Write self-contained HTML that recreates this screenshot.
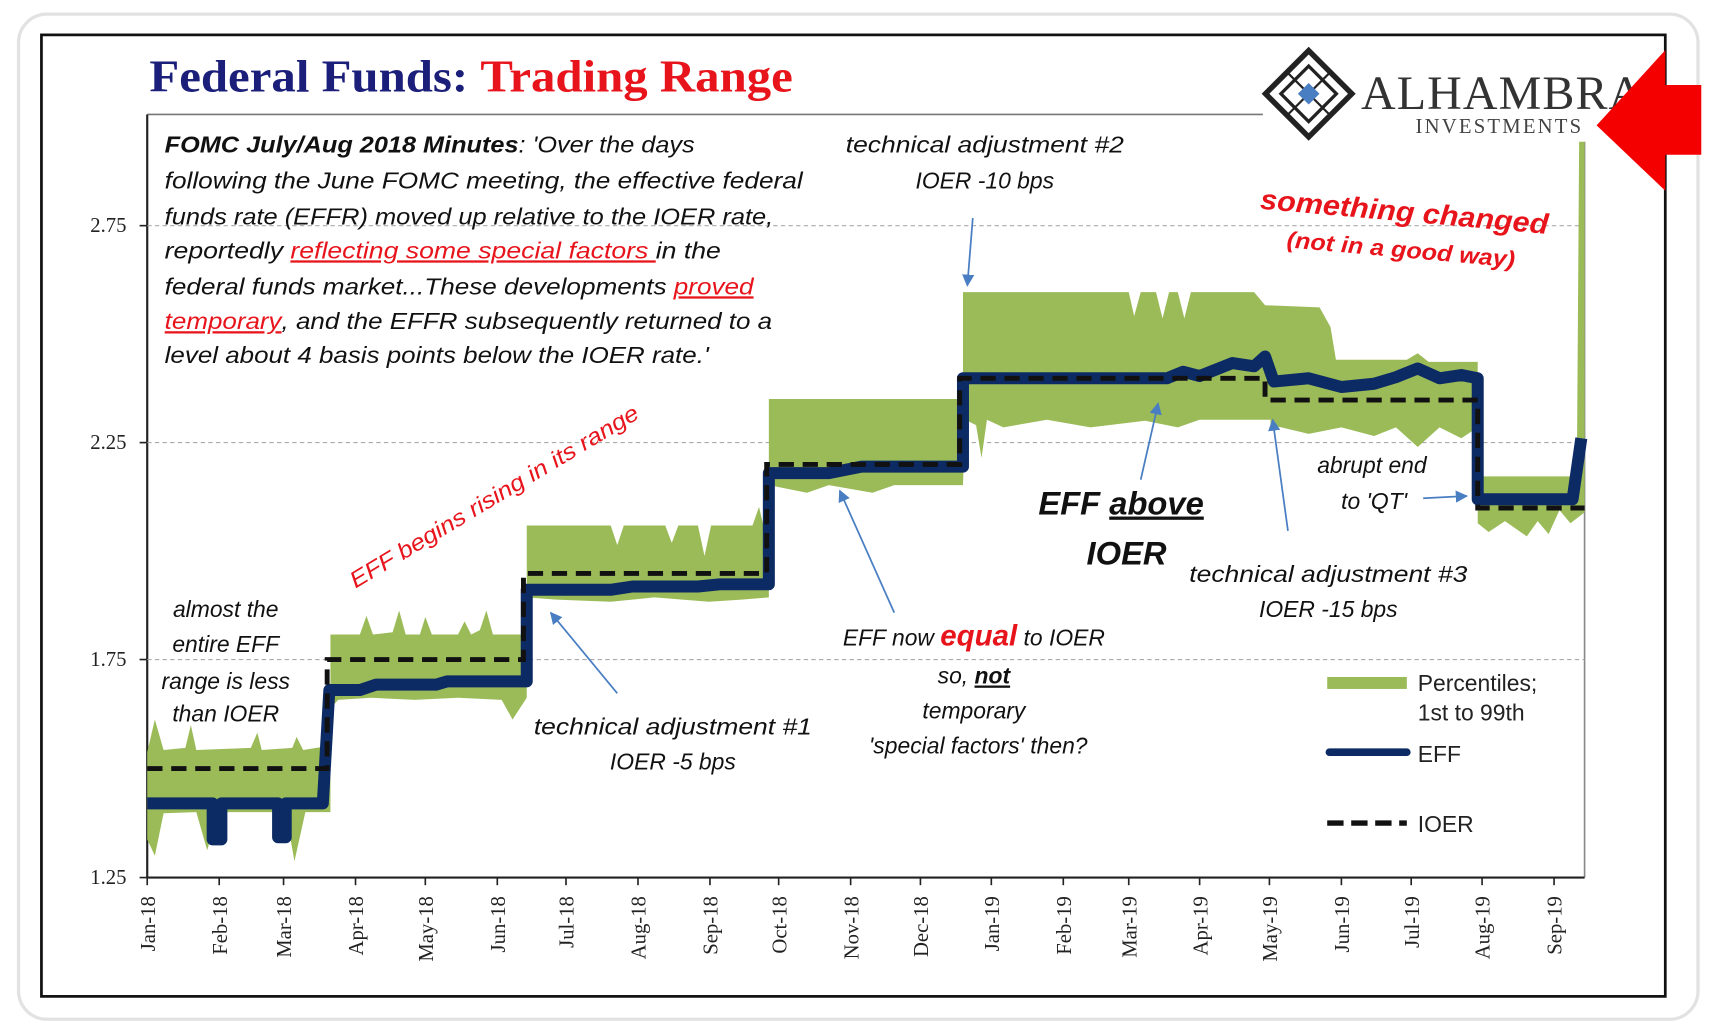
<!DOCTYPE html>
<html><head><meta charset="utf-8"><style>
html,body{margin:0;padding:0;background:#fff;}
svg{display:block;}
.ann{font-family:"Liberation Sans",sans-serif;font-style:italic;font-size:21px;fill:#111;}
.ser{font-family:"Liberation Serif",serif;}
</style></head><body>
<svg width="1710" height="1028" viewBox="0 0 1568 943" preserveAspectRatio="none" xmlns="http://www.w3.org/2000/svg">
<defs>
<marker id="ah" viewBox="0 0 10 10" refX="9" refY="5" markerWidth="7" markerHeight="7" orient="auto-start-reverse">
<path d="M0,0 L10,5 L0,10 z" fill="#4a7ec2"/></marker>
</defs>
<rect x="17" y="13" width="1540" height="922" rx="26" fill="#fff" stroke="#e2e2e2" stroke-width="3"/>
<rect x="38" y="32" width="1489" height="882" fill="#fff" stroke="#111" stroke-width="2.5"/>
<!-- title -->
<text x="137" y="84" class="ser" font-size="42" font-weight="bold" fill="#1b1f7a" textLength="590" lengthAdjust="spacingAndGlyphs">Federal Funds: <tspan fill="#e8141c">Trading Range</tspan></text>
<!-- logo -->
<g transform="translate(1200,86) rotate(45)">
<rect x="-28" y="-28" width="56" height="56" fill="none" stroke="#222" stroke-width="5"/>
<rect x="-18" y="-18" width="36" height="36" fill="none" stroke="#222" stroke-width="3"/>
<line x1="-28" y1="0" x2="28" y2="0" stroke="#222" stroke-width="2"/>
<line x1="0" y1="-28" x2="0" y2="28" stroke="#222" stroke-width="2"/>
<rect x="-7" y="-7" width="14" height="14" fill="#4a7ec2"/>
</g>
<text x="1248" y="100" class="ser" font-size="44" fill="#333" letter-spacing="1">ALHAMBRA</text>
<text x="1298" y="122" class="ser" font-size="19" fill="#444" letter-spacing="2">INVESTMENTS</text>
<polygon points="1464,115 1527,46 1527,78 1560,78 1560,142 1527,142 1527,175" fill="#f50000"/>
<!-- plot frame lines -->
<line x1="135" y1="105" x2="1158" y2="105" stroke="#777" stroke-width="1.5"/>
<line x1="135" y1="105" x2="135" y2="805" stroke="#222" stroke-width="2"/>
<line x1="1453" y1="130" x2="1453" y2="805" stroke="#888" stroke-width="1.5"/>
<g stroke="#aaa" stroke-width="1" stroke-dasharray="4 3">
<line x1="135" y1="207" x2="1453" y2="207"/><line x1="135" y1="406" x2="1453" y2="406"/><line x1="135" y1="605" x2="1453" y2="605"/>
</g>
<g class="ser" font-size="19" fill="#222" text-anchor="end">
<text x="116" y="213">2.75</text><text x="116" y="412">2.25</text><text x="116" y="611">1.75</text><text x="116" y="811">1.25</text>
</g>
<g stroke="#222" stroke-width="1.5"><line x1="128" y1="207" x2="135" y2="207"/><line x1="128" y1="406" x2="135" y2="406"/><line x1="128" y1="605" x2="135" y2="605"/><line x1="128" y1="805" x2="135" y2="805"/></g>
<!-- green band -->
<path fill="#9bbb59" d="M135,690 L142,660 L150,688 L170,686 L175,665 L180,688 L230,686 L236,672 L240,688 L268,686 L272,676 L278,688 L303,684 L303,582 L330,582 L336,565 L342,582 L360,580 L366,560 L372,582 L385,582 L390,566 L396,582 L420,582 L426,570 L432,582 L440,578 L446,560 L452,582 L483,582 L483,482 L560,482 L566,500 L572,482 L610,482 L616,498 L622,482 L640,482 L646,510 L652,482 L690,482 L696,465 L700,482 L705,482 L705,366 L883,366 L883,268 L1035,268 L1040,290 L1046,268 L1060,268 L1066,292 L1072,268 L1080,268 L1086,292 L1092,268 L1150,268 L1160,280 L1210,282 L1220,300 L1225,330 L1290,330 L1300,324 L1310,332 L1355,332 L1355,437 L1440,437 L1446,420 L1448,130 L1453,130 L1453,470 L1440,480 L1430,468 L1420,490 L1410,478 L1400,492 L1380,478 L1365,488 L1355,480 L1355,392 L1340,402 L1320,392 L1300,410 L1280,392 L1260,400 L1230,392 L1200,398 L1175,392 L1165,390 L1165,385 L1100,385 L1080,392 L1050,386 L1000,392 L960,385 L920,392 L905,385 L900,420 L895,390 L885,385 L883,445 L820,445 L800,452 L760,445 L740,452 L705,445 L705,548 L680,550 L650,552 L600,548 L560,552 L510,550 L483,548 L483,640 L470,660 L460,642 L420,640 L380,642 L340,640 L310,642 L303,650 L303,745 L280,745 L270,790 L262,745 L200,745 L190,780 L180,745 L150,746 L142,785 L135,770 Z"/>
<!-- EFF -->
<path fill="none" stroke="#0c2a63" stroke-width="11" stroke-linejoin="round" d="M135,737 H195 V770 H203 V737 H255 V768 H262 V737 H296 L302,633 H330 L345,628 H400 L410,625 H483 V541 H560 L580,538 H640 L660,536 H705 V434 H760 L790,428 H883 V347 H1070 L1085,341 L1100,345 L1130,333 L1150,336 L1160,327 L1168,350 L1200,347 L1230,355 L1260,352 L1280,346 L1300,338 L1320,347 L1340,344 L1355,347 V458 H1442 L1450,402"/>
<!-- IOER -->
<path fill="none" stroke="#111" stroke-width="4.5" stroke-dasharray="14 8" d="M135,705 H300 V605 H480 V526 H703 V426 H880 V347 H1160 V367 H1355 V466 H1453"/>
<!-- x axis -->
<line x1="135" y1="805" x2="1453" y2="805" stroke="#222" stroke-width="2"/>
<g stroke="#222" stroke-width="1.5">
<line x1="135" y1="805" x2="135" y2="812"/><line x1="201" y1="805" x2="201" y2="812"/><line x1="260" y1="805" x2="260" y2="812"/><line x1="326" y1="805" x2="326" y2="812"/><line x1="390" y1="805" x2="390" y2="812"/><line x1="456" y1="805" x2="456" y2="812"/><line x1="519" y1="805" x2="519" y2="812"/><line x1="585" y1="805" x2="585" y2="812"/><line x1="651" y1="805" x2="651" y2="812"/><line x1="714" y1="805" x2="714" y2="812"/><line x1="780" y1="805" x2="780" y2="812"/><line x1="844" y1="805" x2="844" y2="812"/><line x1="909" y1="805" x2="909" y2="812"/><line x1="975" y1="805" x2="975" y2="812"/><line x1="1035" y1="805" x2="1035" y2="812"/><line x1="1100" y1="805" x2="1100" y2="812"/><line x1="1164" y1="805" x2="1164" y2="812"/><line x1="1230" y1="805" x2="1230" y2="812"/><line x1="1294" y1="805" x2="1294" y2="812"/><line x1="1359" y1="805" x2="1359" y2="812"/><line x1="1425" y1="805" x2="1425" y2="812"/>
</g>
<g class="ser" font-size="19" fill="#222" text-anchor="end">
<text transform="translate(142,822) rotate(-90)">Jan-18</text><text transform="translate(208,822) rotate(-90)">Feb-18</text><text transform="translate(267,822) rotate(-90)">Mar-18</text><text transform="translate(333,822) rotate(-90)">Apr-18</text><text transform="translate(397,822) rotate(-90)">May-18</text><text transform="translate(463,822) rotate(-90)">Jun-18</text><text transform="translate(526,822) rotate(-90)">Jul-18</text><text transform="translate(592,822) rotate(-90)">Aug-18</text><text transform="translate(658,822) rotate(-90)">Sep-18</text><text transform="translate(721,822) rotate(-90)">Oct-18</text><text transform="translate(787,822) rotate(-90)">Nov-18</text><text transform="translate(851,822) rotate(-90)">Dec-18</text><text transform="translate(916,822) rotate(-90)">Jan-19</text><text transform="translate(982,822) rotate(-90)">Feb-19</text><text transform="translate(1042,822) rotate(-90)">Mar-19</text><text transform="translate(1107,822) rotate(-90)">Apr-19</text><text transform="translate(1171,822) rotate(-90)">May-19</text><text transform="translate(1237,822) rotate(-90)">Jun-19</text><text transform="translate(1301,822) rotate(-90)">Jul-19</text><text transform="translate(1366,822) rotate(-90)">Aug-19</text><text transform="translate(1432,822) rotate(-90)">Sep-19</text>
</g>
<!-- quote -->
<g class="ann">
<text x="151" y="140" textLength="486" lengthAdjust="spacingAndGlyphs"><tspan font-weight="bold">FOMC July/Aug 2018 Minutes</tspan>:  'Over the days</text>
<text x="151" y="173" textLength="585" lengthAdjust="spacingAndGlyphs">following the June FOMC meeting, the effective federal</text>
<text x="151" y="206" textLength="558" lengthAdjust="spacingAndGlyphs">funds rate (EFFR) moved up relative to the IOER rate,</text>
<text x="151" y="237" textLength="510" lengthAdjust="spacingAndGlyphs">reportedly <tspan style="fill:#e8141c" text-decoration="underline">reflecting some special factors </tspan> in the</text>
<text x="151" y="270" textLength="540" lengthAdjust="spacingAndGlyphs">federal funds market...These developments <tspan style="fill:#e8141c" text-decoration="underline">proved</tspan></text>
<text x="151" y="302" textLength="557" lengthAdjust="spacingAndGlyphs"><tspan style="fill:#e8141c" text-decoration="underline">temporary</tspan>, and the EFFR subsequently returned to a</text>
<text x="151" y="333" textLength="499" lengthAdjust="spacingAndGlyphs">level about 4 basis points below the IOER rate.'</text>
</g>
<!-- annotations -->
<g class="ann" text-anchor="middle">
<text x="903" y="140" textLength="255" lengthAdjust="spacingAndGlyphs">technical adjustment #2</text>
<text x="903" y="173">IOER -10 bps</text>
<text x="207" y="566">almost the</text>
<text x="207" y="598">entire EFF</text>
<text x="207" y="632">range is less</text>
<text x="207" y="662">than IOER</text>
<text x="617" y="674" textLength="255" lengthAdjust="spacingAndGlyphs">technical adjustment #1</text>
<text x="617" y="706">IOER -5 bps</text>
<text x="893" y="592">EFF now <tspan style="fill:#e8141c" font-weight="bold" font-size="27">equal</tspan> to IOER</text>
<text x="893" y="627">so, <tspan font-weight="bold" text-decoration="underline">not</tspan></text>
<text x="893" y="659">temporary</text>
<text x="897" y="691">'special factors' then?</text>
<text x="1258" y="434">abrupt end</text>
<text x="1260" y="467">to 'QT'</text>
<text x="1218" y="534" textLength="255" lengthAdjust="spacingAndGlyphs">technical adjustment #3</text>
<text x="1218" y="566">IOER -15 bps</text>
<text x="1028" y="472" font-size="30" font-weight="bold">EFF <tspan text-decoration="underline">above</tspan></text>
<text x="1033" y="518" font-size="30" font-weight="bold">IOER</text>
</g>
<text class="ann" x="0" y="0" style="fill:#e8141c" font-size="22" transform="translate(326,540) rotate(-31)" textLength="305" lengthAdjust="spacingAndGlyphs">EFF begins rising in its range</text>
<g class="ann" style="fill:#e8141c" font-weight="bold" text-anchor="middle">
<text transform="translate(1287,203) rotate(5)" font-size="26" textLength="265" lengthAdjust="spacingAndGlyphs">something changed</text>
<text transform="translate(1284,236) rotate(5)" font-size="21" textLength="210" lengthAdjust="spacingAndGlyphs">(not in a good way)</text>
</g>
<!-- arrows -->
<g stroke="#4a7ec2" stroke-width="1.6" fill="none" marker-end="url(#ah)">
<line x1="892" y1="200" x2="887" y2="262"/>
<line x1="566" y1="636" x2="505" y2="562"/>
<line x1="820" y1="562" x2="770" y2="450"/>
<line x1="1046" y1="440" x2="1062" y2="370"/>
<line x1="1181" y1="487" x2="1167" y2="385"/>
<line x1="1305" y1="457" x2="1345" y2="455"/>
</g>
<!-- legend -->
<rect x="1217" y="621" width="73" height="11" fill="#9bbb59"/>
<line x1="1219" y1="690" x2="1290" y2="690" stroke="#0c2a63" stroke-width="7" stroke-linecap="round"/>
<line x1="1217" y1="755" x2="1290" y2="755" stroke="#111" stroke-width="5" stroke-dasharray="15 7"/>
<g font-family="Liberation Sans, sans-serif" font-size="21" fill="#222">
<text x="1300" y="634">Percentiles;</text>
<text x="1300" y="661">1st to 99th</text>
<text x="1300" y="699">EFF</text>
<text x="1300" y="763">IOER</text>
</g>
</svg>
</body></html>
